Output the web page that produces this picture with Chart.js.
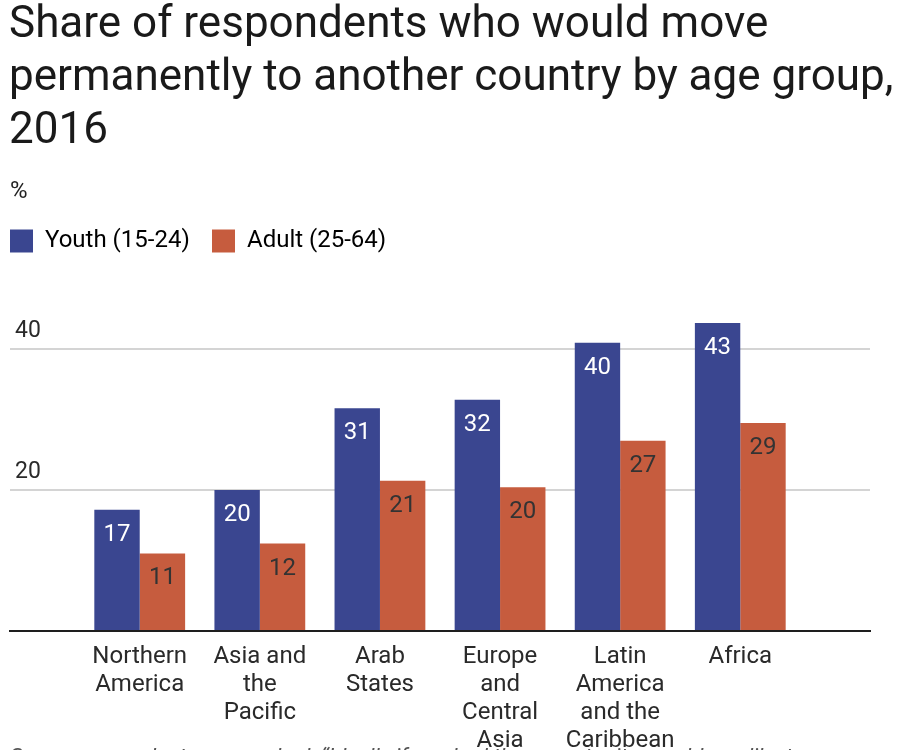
<!DOCTYPE html>
<html>
<head>
<meta charset="utf-8">
<script src="https://cdn.jsdelivr.net/npm/chart.js@4/dist/chart.umd.min.js"></script>
<style>
  html, body { margin: 0; padding: 0; background: #fff; }
  body { width: 912px; height: 750px; overflow: hidden; position: relative; font-family: Roboto, "Noto Sans", sans-serif; }
  #title { position: absolute; left: 9px; top: -4px; font-size: 44px; line-height: 53px; color: #1a1a1a; font-weight: 400; white-space: nowrap; }
  #unit { position: absolute; left: 10px; top: 176px; font-size: 24px; line-height: 28px; color: #222; }
  #note { position: absolute; left: 10px; top: 743px; font-size: 22px; line-height: 28px; color: #555; font-style: italic; white-space: nowrap; }
  #wrap { position: absolute; left: 0; top: 0; width: 912px; height: 767px; }
</style>
</head>
<body>
<div id="wrap"><canvas id="c"></canvas></div>
<div id="title">Share of respondents who would move<br>permanently to another country by age group,<br>2016</div>
<div id="unit">%</div>
<div id="note">Survey respondents were asked: “Ideally if you had the opportunity, would you like to move permanently to another country, or would you prefer to continue living in this country?”</div>
<script>
const categories = [
  ["Northern", "America"],
  ["Asia and", "the", "Pacific"],
  ["Arab", "States"],
  ["Europe", "and", "Central", "Asia"],
  ["Latin", "America", "and the", "Caribbean"],
  ["Africa"]
];
const seriesNames = ["Youth (15-24)", "Adult (25-64)"];
const youth = [17.2, 20.0, 31.6, 32.8, 40.9, 43.7];
const adult = [11.0, 12.4, 21.3, 20.4, 27.0, 29.5];
const yTickLabels = [20, 40];

const colors = ["#3a4690", "#c65c3e"];
const labelColors = ["#ffffff", "#333333"];

const barLabels = {
  id: 'barLabels',
  afterDatasetsDraw(chart) {
    const ctx = chart.ctx;
    ctx.save();
    ctx.font = '24px Roboto';
    ctx.textAlign = 'center';
    ctx.textBaseline = 'middle';
    chart.data.datasets.forEach((ds, di) => {
      const meta = chart.getDatasetMeta(di);
      ctx.fillStyle = labelColors[di];
      meta.data.forEach((bar, i) => {
        ctx.fillText(String(Math.floor(ds.data[i])), bar.x, bar.y + 25);
      });
    });
    ctx.restore();
  }
};

new Chart(document.getElementById('c'), {
  type: 'bar',
  data: {
    labels: categories.map((_, i) => i),
    datasets: [
      { label: seriesNames[0], data: youth, backgroundColor: colors[0] },
      { label: seriesNames[1], data: adult, backgroundColor: colors[1] }
    ]
  },
  options: {
    responsive: true,
    maintainAspectRatio: false,
    animation: false,
    layout: { padding: { left: 0, right: 42, top: 219, bottom: 0 } },
    categoryPercentage: 0.756,
    barPercentage: 1.0,
    plugins: {
      title: { display: false },
      tooltip: { enabled: false },
      legend: {
        display: true,
        position: 'top',
        align: 'start',
        labels: {
          boxWidth: 23,
          boxHeight: 23,
          padding: 10,
          color: '#222',
          font: { family: 'Roboto', size: 24 },
          generateLabels(chart) {
            return chart.data.datasets.map((ds, i) => ({
              text: ds.label + (i === 0 ? '\u2002' : ''),
              fillStyle: ds.backgroundColor,
              strokeStyle: ds.backgroundColor,
              lineWidth: 0,
              hidden: false,
              datasetIndex: i
            }));
          }
        }
      }
    },
    scales: {
      x: {
        type: 'linear',
        min: -1.08,
        max: 6.08,
        offset: false,
        afterBuildTicks(scale) { scale.ticks = categories.map((_, i) => ({ value: i })); },
        grid: { display: false, drawTicks: false },
        border: { display: true, color: '#1e1e1e', width: 2 },
        ticks: {
          autoSkip: false,
          maxRotation: 0,
          padding: 12,
          color: '#2a2a2a',
          font: { family: 'Roboto', size: 24, lineHeight: 28 / 24 },
          callback: (v) => categories[v] || ''
        }
      },
      y: {
        min: 0,
        max: 52.2,
        afterBuildTicks(scale) { scale.ticks = [0].concat(yTickLabels).map(v => ({ value: v })); },
        grid: {
          drawTicks: false,
          lineWidth: 2,
          color: (c) => (c.tick && yTickLabels.includes(c.tick.value)) ? '#d4d4d4' : 'rgba(0,0,0,0)'
        },
        border: { display: false },
        ticks: {
          mirror: true,
          padding: 5,
          labelOffset: -18,
          color: '#2a2a2a',
          font: { family: 'Roboto', size: 23 },
          callback: (v) => yTickLabels.includes(v) ? String(v) : ''
        }
      }
    }
  },
  plugins: [barLabels]
});
</script>
</body>
</html>
